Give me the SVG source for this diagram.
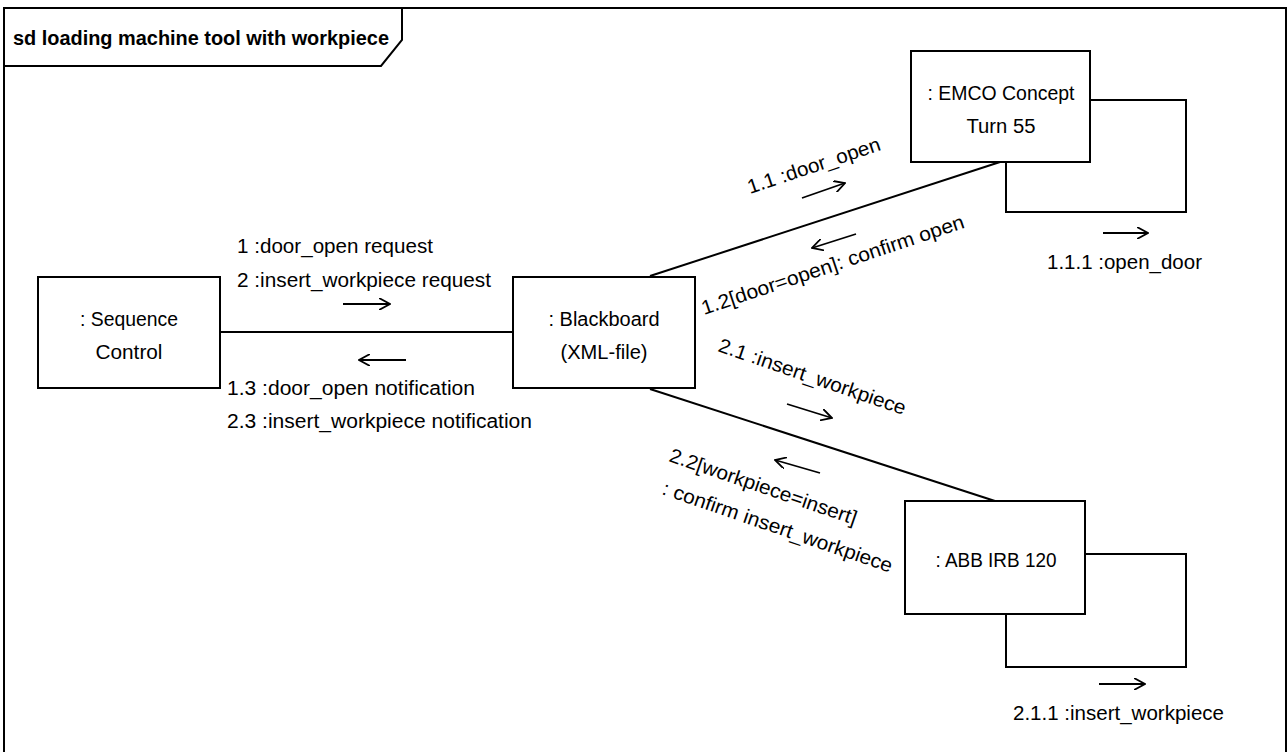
<svg xmlns="http://www.w3.org/2000/svg" width="1288" height="752" viewBox="0 0 1288 752">
<style>
.box{fill:#fff;stroke:#000;stroke-width:2}
.ln{fill:none;stroke:#000;stroke-width:2}
.arr{fill:none;stroke:#000;stroke-width:1.8;marker-end:url(#ah)}
text{font-family:"Liberation Sans",Arial,sans-serif;font-size:20px;fill:#000}
.c{text-anchor:middle}
.t{font-weight:bold}
</style>
<defs>
<marker id="ah" viewBox="0 0 12 12" refX="11" refY="6" markerWidth="12" markerHeight="12" markerUnits="userSpaceOnUse" orient="auto">
<path d="M0,0 L11,6 L0,12" fill="none" stroke="#000" stroke-width="1.8"/>
</marker>
</defs>
<rect width="1288" height="752" fill="#fff"/>
<g id="frame">
<rect x="4" y="8" width="1282" height="748" fill="none" stroke="#000" stroke-width="2"/>
<path d="M4,66 L381,66 L402,40 L402,8" class="ln"/>
<text x="13" y="45" class="t" textLength="376" lengthAdjust="spacingAndGlyphs">sd loading machine tool with workpiece</text>
</g>
<g id="connectors">
<line x1="220" y1="332" x2="513" y2="332" class="ln"/>
<line x1="650" y1="276" x2="1000" y2="162" class="ln"/>
<line x1="650" y1="389" x2="995" y2="501" class="ln"/>
<path d="M1090,100 L1186,100 L1186,212 L1006,212 L1006,162" class="ln"/>
<path d="M1085,554 L1186,554 L1186,667 L1006,667 L1006,614" class="ln"/>
<line x1="343" y1="304" x2="390" y2="304" class="arr"/>
<line x1="406" y1="360" x2="359" y2="360" class="arr"/>
<line x1="802" y1="198" x2="845" y2="183" class="arr"/>
<line x1="856" y1="234" x2="812" y2="248" class="arr"/>
<line x1="787" y1="404" x2="832" y2="418" class="arr"/>
<line x1="820" y1="473" x2="775" y2="460" class="arr"/>
<line x1="1103" y1="233" x2="1148" y2="233" class="arr"/>
<line x1="1099" y1="684" x2="1145" y2="684" class="arr"/>
<text x="237" y="253" textLength="196" lengthAdjust="spacingAndGlyphs">1 :door_open request</text>
<text x="237" y="287" textLength="254" lengthAdjust="spacingAndGlyphs">2 :insert_workpiece request</text>
<text x="227" y="395" textLength="248" lengthAdjust="spacingAndGlyphs">1.3 :door_open notification</text>
<text x="227" y="428" textLength="305" lengthAdjust="spacingAndGlyphs">2.3 :insert_workpiece notification</text>
<text transform="translate(750,194) rotate(-18.5)" textLength="139" lengthAdjust="spacingAndGlyphs">1.1 :door_open</text>
<text transform="translate(704,315) rotate(-18.5)" textLength="276" lengthAdjust="spacingAndGlyphs">1.2[door=open]: confirm open</text>
<text transform="translate(717,351) rotate(19)" textLength="197" lengthAdjust="spacingAndGlyphs">2.1 :insert_workpiece</text>
<text transform="translate(668,461) rotate(19)" textLength="197" lengthAdjust="spacingAndGlyphs">2.2[workpiece=insert]</text>
<text transform="translate(661,494) rotate(19)" textLength="242" lengthAdjust="spacingAndGlyphs">: confirm insert_workpiece</text>
<text x="1047" y="269" textLength="155" lengthAdjust="spacingAndGlyphs">1.1.1 :open_door</text>
<text x="1013" y="720" textLength="211" lengthAdjust="spacingAndGlyphs">2.1.1 :insert_workpiece</text>
</g>
<g id="seq">
<rect x="38" y="277" width="182" height="111" class="box"/>
<text x="129" y="326" class="c" textLength="98" lengthAdjust="spacingAndGlyphs">: Sequence</text>
<text x="129" y="359" class="c" textLength="67" lengthAdjust="spacingAndGlyphs">Control</text>
</g>
<g id="blackboard">
<rect x="513" y="277" width="182" height="111" class="box"/>
<text x="604" y="326" class="c" textLength="111" lengthAdjust="spacingAndGlyphs">: Blackboard</text>
<text x="604" y="359" class="c" textLength="87" lengthAdjust="spacingAndGlyphs">(XML-file)</text>
</g>
<g id="emco">
<rect x="911" y="51" width="179" height="111" class="box"/>
<text x="1001" y="100" class="c" textLength="147" lengthAdjust="spacingAndGlyphs">: EMCO Concept</text>
<text x="1001" y="133" class="c" textLength="69" lengthAdjust="spacingAndGlyphs">Turn 55</text>
</g>
<g id="abb">
<rect x="905" y="501" width="180" height="113" class="box"/>
<text x="996" y="567" class="c" textLength="121" lengthAdjust="spacingAndGlyphs">: ABB IRB 120</text>
</g>
</svg>
